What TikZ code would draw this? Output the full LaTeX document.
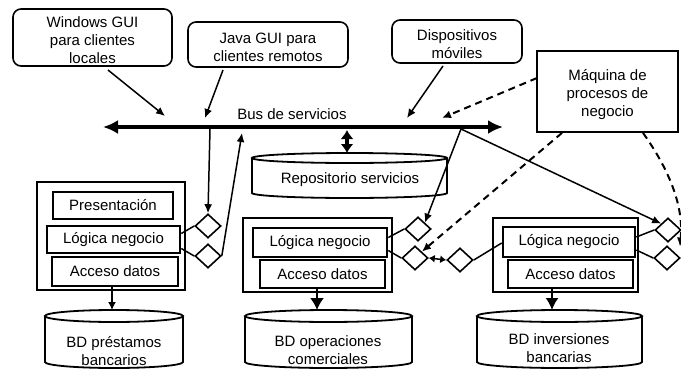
\documentclass[tikz,border=0pt]{standalone}
\usepackage{fontspec}
\setmainfont{Liberation Sans}
\usetikzlibrary{arrows.meta,shapes.geometric}

% drum-shaped data store: x-left, x-right, top-ellipse centre y, bottom centre y, y radius
\newcommand\dbdrum[5]{%
  \draw[drum] ({(#1+#2)/2},#3) ellipse[x radius={(#2-#1)/2}, y radius=#5];
  \draw[drum] (#1,#3) -- (#1,#4)
    arc[start angle=180, end angle=0, x radius={(#2-#1)/2}, y radius=#5] -- (#2,#3);
}
% extra room above the first text line, pushing the text block a little lower
\newcommand\topgap{\rule{0pt}{17pt}}

\begin{document}
\begin{tikzpicture}[x=1pt,y=-1pt,
  font=\fontsize{15}{18}\selectfont,
  client/.style={draw, line width=1.6pt, rounded corners=8pt, align=center, inner sep=0pt},
  engine/.style={draw, line width=1.8pt, align=center, inner sep=0pt},
  server/.style={draw, line width=1.6pt, inner sep=0pt},
  layer/.style={draw, line width=2.6pt, inner sep=0pt},
  port/.style={diamond, draw, line width=1.6pt, minimum width=26pt, minimum height=24pt, inner sep=0pt},
  drum/.style={line width=1.8pt},
  label/.style={align=center, inner sep=0pt},
  link/.style={line width=1.5pt},
  call/.style={line width=1.5pt, -{Latex[length=9pt,width=8pt]}},
  flow/.style={line width=2pt, dash pattern=on 7pt off 5pt, -{Latex[length=9pt,width=8pt]}},
]
\fill[white] (0,0) rectangle (681,378);
\useasboundingbox (0,0) rectangle (681,378);

% ---- clients and process engine ----
\node[client, minimum width=159pt, minimum height=57pt] (win) at (92.5,37.5)
  {\topgap Windows GUI\\para clientes\\locales};
\node[client, minimum width=160pt, minimum height=45pt] (java) at (268,44.5)
  {\topgap Java GUI para\\clientes remotos};
\node[client, minimum width=130pt, minimum height=43pt] (mob) at (457,41.5)
  {\topgap Dispositivos\\móviles};
\node[engine, minimum width=141pt, minimum height=81pt] (bpm) at (607.5,91.5)
  {\topgap Máquina de\\procesos de\\negocio};

% ---- service bus ----
\coordinate (busL) at (103,127);
\coordinate (busR) at (503,127);
\draw[line width=3.5pt, {Latex[length=15pt,width=14pt]}-{Latex[length=15pt,width=14pt]}] (busL) -- (busR);
\node[label] (busname) at (292,114) {Bus de servicios};

% ---- service repository ----
\dbdrum{252}{447}{158}{193}{5}
\node[label] (repo) at (350,180) {Repositorio servicios};
\coordinate (repoTop) at (347,153);
\coordinate (repoBus) at (347,130);
\draw[line width=3.5pt, {Latex[length=9pt,width=13pt]}-{Latex[length=9pt,width=13pt]}] (repoBus) -- (repoTop);

% ---- left application ----
\node[server, minimum width=148pt, minimum height=108pt] (srvL) at (111,236) {};
\node[layer, minimum width=120pt, minimum height=27pt] (presL) at (113,205.5) {Presentación};
\node[layer, minimum width=133pt, minimum height=27pt] (logL) at (113.5,239.5) {Lógica negocio};
\node[layer, minimum width=126pt, minimum height=29pt] (accL) at (115,271.5) {Acceso datos};
\node[port] (pLa) at (208,226) {};
\node[port] (pLb) at (208,256) {};
\draw[link] ([yshift=6pt]logL.east) -- (pLa.west);
\draw[link] ([yshift=-9pt]logL.east) -- (pLb.west);

% ---- middle application ----
\node[server, minimum width=149pt, minimum height=74pt] (srvM) at (317.5,255) {};
\node[layer, minimum width=134pt, minimum height=29pt] (logM) at (320,242.5) {Lógica negocio};
\node[layer, minimum width=125pt, minimum height=28pt] (accM) at (322.5,274) {Acceso datos};
\node[port] (pMa) at (418,229) {};
\node[port] (pMb) at (415,258) {};
\draw[link] ([yshift=5pt]logM.east) -- (pMa.west);
\draw[link] ([yshift=-8pt]logM.east) -- (pMb.west);

% ---- right application ----
\node[server, minimum width=145pt, minimum height=74pt] (srvR) at (565.5,255) {};
\node[layer, minimum width=132pt, minimum height=30pt] (logR) at (569,242) {Lógica negocio};
\node[layer, minimum width=125pt, minimum height=28pt] (accR) at (570.5,274) {Acceso datos};
\node[port] (pRw) at (460,260) {};
\node[port] (pRa) at (668,230) {};
\node[port] (pRb) at (667,258) {};
\draw[link] (pRw.east) -- ([yshift=-1pt]logR.west);
\draw[link] ([yshift=5pt]logR.east) -- (pRa.west);
\draw[link] ([yshift=-8pt]logR.east) -- (pRb.west);
\draw[line width=1.5pt, {Latex[length=6pt,width=8pt]}-{Latex[length=6pt,width=8pt]}] (pMb.east) -- (pRw.west);

% ---- databases ----
\dbdrum{45}{183}{316}{362}{6}
\node[label] (dbL) at (114,351) {BD préstamos\\bancarios};
\dbdrum{245}{412}{316}{362}{6}
\node[label] (dbM) at (328,350) {BD operaciones\\comerciales};
\dbdrum{477}{642}{316}{362}{6}
\node[label] (dbR) at (559,348) {BD inversiones\\bancarias};
\coordinate (dbLtop) at (112,310);
\coordinate (dbMtop) at (317,310);
\coordinate (dbRtop) at (552,310);
\draw[line width=1.5pt, -{Latex[length=8pt,width=8pt]}] (accL.south -| dbLtop) -- (dbLtop);
\draw[line width=1.8pt, -{Latex[length=12pt,width=14pt]}] (accM.south -| dbMtop) -- (dbMtop);
\draw[line width=1.8pt, -{Latex[length=12pt,width=13pt]}] (accR.south -| dbRtop) -- (dbRtop);

% ---- clients onto the bus ----
\coordinate (winStart) at (108,70);
\coordinate (winEnd) at (165,116);
\coordinate (javaStart) at (223,70);
\coordinate (javaEnd) at (205,118);
\coordinate (mobStart) at (443,66);
\coordinate (mobEnd) at (407,118);
\coordinate (bpmStart) at (537,78);
\coordinate (bpmEnd) at (442,118);
\draw[call] (winStart) -- (winEnd);
\draw[call] (javaStart) -- (javaEnd);
\draw[call] (mobStart) -- (mobEnd);
\draw[flow] (bpmStart) -- (bpmEnd);

% ---- bus to application ports ----
\coordinate (tapL) at (210,129);
\coordinate (busIn) at (242,133);
\coordinate (tapR) at (461,129);
\draw[call] (tapL) -- (pLa.north);
\draw[call] (pLb.east) -- (busIn);
\draw[call] (tapR) -- (pMa.north east);
\draw[call] (tapR) -- (pRa.north west);

% ---- process engine orchestration ----
\draw[flow] (bpm.south west -| 562,0) -- (pMb.north east);
\draw[flow] (bpm.south west -| 643,0) .. controls (668,168) and (684,205) .. ([xshift=6pt,yshift=5pt]pRb.north east);
\end{tikzpicture}
\end{document}
